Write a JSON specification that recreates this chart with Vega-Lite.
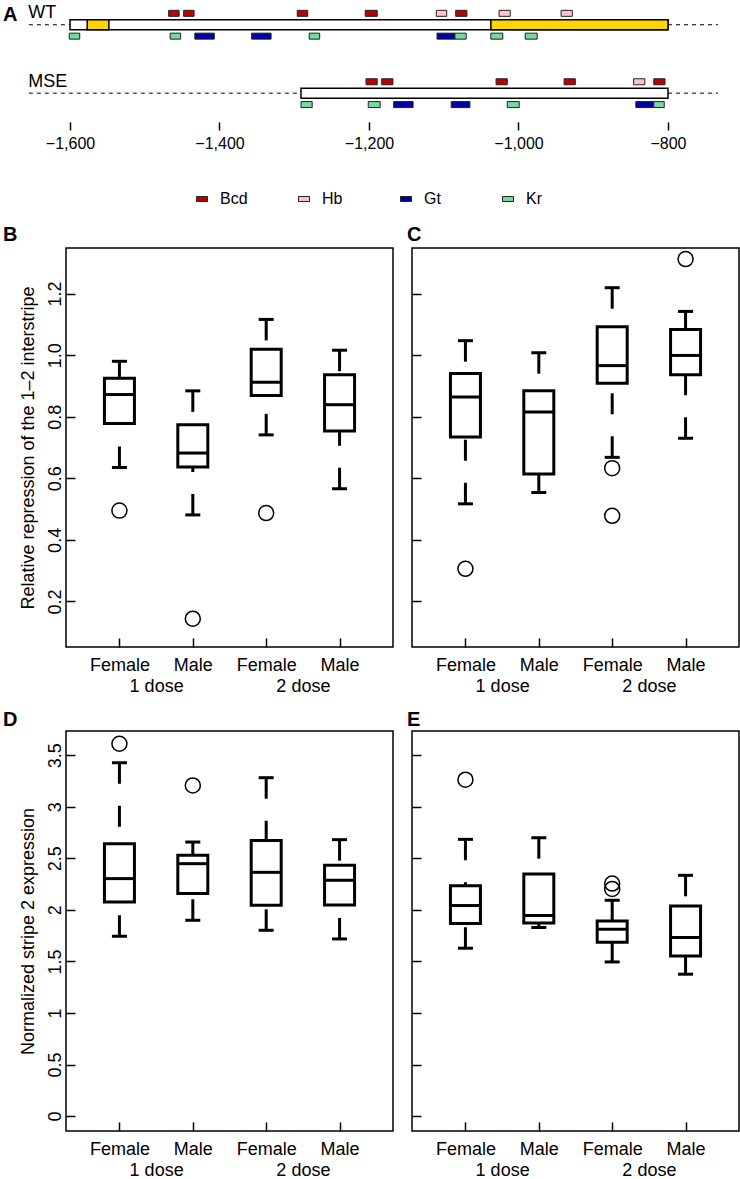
{
  "$schema": "https://vega.github.io/schema/vega-lite/v6.json",
  "background": "white",
  "padding": {"left": 2, "top": 0, "right": 0, "bottom": 4},
  "bounds": "flush",
  "spacing": 126,
  "datasets": {
    "flanks": [
      {"construct": "WT", "track": 0, "start": -1655, "end": -1600},
      {"construct": "WT", "track": 0, "start": -800, "end": -733},
      {"construct": "MSE", "track": -6, "start": -1655, "end": -1291},
      {"construct": "MSE", "track": -6, "start": -800, "end": -733}
    ],
    "bodies": [
      {"construct": "WT", "track": 0, "start": -1600, "end": -800},
      {"construct": "MSE", "track": -6, "start": -1291, "end": -800}
    ],
    "enhancers": [
      {"construct": "WT", "track": 0, "start": -1577, "end": -1548},
      {"construct": "WT", "track": 0, "start": -1037, "end": -800}
    ],
    "names": [
      {"label": "WT", "track": 1, "x": -1656},
      {"label": "MSE", "track": -5, "x": -1656}
    ],
    "sites": [
      {"factor": "Bcd", "track": 1, "start": -1468, "end": -1454},
      {"factor": "Bcd", "track": 1, "start": -1448, "end": -1434},
      {"factor": "Bcd", "track": 1, "start": -1296, "end": -1282},
      {"factor": "Bcd", "track": 1, "start": -1205, "end": -1189},
      {"factor": "Hb", "track": 1, "start": -1110, "end": -1096},
      {"factor": "Bcd", "track": 1, "start": -1084, "end": -1069},
      {"factor": "Hb", "track": 1, "start": -1026, "end": -1011},
      {"factor": "Hb", "track": 1, "start": -943, "end": -928},
      {"factor": "Kr", "track": -1, "start": -1601, "end": -1587},
      {"factor": "Kr", "track": -1, "start": -1466, "end": -1452},
      {"factor": "Gt", "track": -1, "start": -1433, "end": -1407},
      {"factor": "Gt", "track": -1, "start": -1357, "end": -1331},
      {"factor": "Kr", "track": -1, "start": -1280, "end": -1266},
      {"factor": "Gt", "track": -1, "start": -1109, "end": -1085},
      {"factor": "Kr", "track": -1, "start": -1085, "end": -1070},
      {"factor": "Kr", "track": -1, "start": -1037, "end": -1021},
      {"factor": "Kr", "track": -1, "start": -991, "end": -975},
      {"factor": "Bcd", "track": -5, "start": -1204, "end": -1189},
      {"factor": "Bcd", "track": -5, "start": -1183, "end": -1168},
      {"factor": "Bcd", "track": -5, "start": -1030, "end": -1015},
      {"factor": "Bcd", "track": -5, "start": -939, "end": -924},
      {"factor": "Hb", "track": -5, "start": -846, "end": -831},
      {"factor": "Bcd", "track": -5, "start": -819, "end": -804},
      {"factor": "Kr", "track": -7, "start": -1291, "end": -1276},
      {"factor": "Kr", "track": -7, "start": -1201, "end": -1185},
      {"factor": "Gt", "track": -7, "start": -1167, "end": -1141},
      {"factor": "Gt", "track": -7, "start": -1090, "end": -1065},
      {"factor": "Kr", "track": -7, "start": -1015, "end": -999},
      {"factor": "Gt", "track": -7, "start": -843, "end": -819},
      {"factor": "Kr", "track": -7, "start": -819, "end": -805}
    ],
    "boxes": [
      {"panel": "B", "pos": 1, "lower": 0.635, "q1": 0.778, "median": 0.872, "q3": 0.925, "upper": 0.980},
      {"panel": "B", "pos": 2, "lower": 0.481, "q1": 0.637, "median": 0.682, "q3": 0.774, "upper": 0.884},
      {"panel": "B", "pos": 3, "lower": 0.741, "q1": 0.869, "median": 0.912, "q3": 1.019, "upper": 1.116},
      {"panel": "B", "pos": 4, "lower": 0.566, "q1": 0.754, "median": 0.839, "q3": 0.936, "upper": 1.016},
      {"panel": "C", "pos": 1, "lower": 0.517, "q1": 0.734, "median": 0.864, "q3": 0.940, "upper": 1.047},
      {"panel": "C", "pos": 2, "lower": 0.554, "q1": 0.614, "median": 0.815, "q3": 0.884, "upper": 1.008},
      {"panel": "C", "pos": 3, "lower": 0.668, "q1": 0.909, "median": 0.966, "q3": 1.092, "upper": 1.219},
      {"panel": "C", "pos": 4, "lower": 0.730, "q1": 0.936, "median": 0.999, "q3": 1.083, "upper": 1.142},
      {"panel": "D", "pos": 1, "lower": 1.744, "q1": 2.077, "median": 2.303, "q3": 2.642, "upper": 3.427},
      {"panel": "D", "pos": 2, "lower": 1.899, "q1": 2.158, "median": 2.448, "q3": 2.529, "upper": 2.658},
      {"panel": "D", "pos": 3, "lower": 1.802, "q1": 2.045, "median": 2.364, "q3": 2.674, "upper": 3.282},
      {"panel": "D", "pos": 4, "lower": 1.718, "q1": 2.048, "median": 2.287, "q3": 2.432, "upper": 2.681},
      {"panel": "E", "pos": 1, "lower": 1.628, "q1": 1.867, "median": 2.042, "q3": 2.235, "upper": 2.684},
      {"panel": "E", "pos": 2, "lower": 1.828, "q1": 1.873, "median": 1.945, "q3": 2.348, "upper": 2.700},
      {"panel": "E", "pos": 3, "lower": 1.495, "q1": 1.686, "median": 1.812, "q3": 1.893, "upper": 2.093},
      {"panel": "E", "pos": 4, "lower": 1.376, "q1": 1.553, "median": 1.732, "q3": 2.038, "upper": 2.335}
    ],
    "outliers": [
      {"panel": "B", "pos": 1, "value": 0.495},
      {"panel": "B", "pos": 2, "value": 0.144},
      {"panel": "B", "pos": 3, "value": 0.487},
      {"panel": "C", "pos": 1, "value": 0.306},
      {"panel": "C", "pos": 3, "value": 0.633},
      {"panel": "C", "pos": 3, "value": 0.478},
      {"panel": "C", "pos": 4, "value": 1.312},
      {"panel": "D", "pos": 1, "value": 3.611},
      {"panel": "D", "pos": 2, "value": 3.207},
      {"panel": "E", "pos": 1, "value": 3.263},
      {"panel": "E", "pos": 3, "value": 2.255},
      {"panel": "E", "pos": 3, "value": 2.203}
    ]
  },
  "vconcat": [
    {
      "width": 673,
      "height": 122,
      "view": {"stroke": null},
      "title": {"text": "A", "anchor": "start", "frame": "group", "dx": -63, "offset": -41, "baseline": "alphabetic", "fontSize": 20, "fontWeight": "bold"},
      "layer": [
        {
          "data": {"name": "flanks"},
          "mark": {"type": "rule", "strokeDash": [4, 4], "strokeWidth": 1, "color": "black"},
          "encoding": {
            "x": {"field": "start", "type": "quantitative", "scale": {"domain": [-1605.35, -705], "nice": false, "zero": false},
                  "axis": {"values": [-1600, -1400, -1200, -1000, -800], "format": ",.0f", "tickSize": 8, "labelPadding": 5, "labelFontSize": 16, "title": null, "labelFlush": false}},
            "x2": {"field": "end"},
            "y": {"field": "track", "type": "quantitative", "scale": {"domain": [-8.09, 1.731], "nice": false, "zero": false}, "axis": null}
          }
        },
        {
          "data": {"name": "bodies"},
          "mark": {"type": "bar", "orient": "horizontal", "size": 10, "fill": "white", "stroke": "black", "strokeWidth": 1.5},
          "encoding": {
            "x": {"field": "start", "type": "quantitative"},
            "x2": {"field": "end"},
            "y": {"field": "track", "type": "quantitative"}
          }
        },
        {
          "data": {"name": "enhancers"},
          "mark": {"type": "bar", "orient": "horizontal", "size": 10, "fill": "#ffd400", "stroke": "black", "strokeWidth": 1.5},
          "encoding": {
            "x": {"field": "start", "type": "quantitative"},
            "x2": {"field": "end"},
            "y": {"field": "track", "type": "quantitative"}
          }
        },
        {
          "data": {"name": "sites"},
          "mark": {"type": "bar", "orient": "horizontal", "size": 6, "stroke": "#222222", "strokeWidth": 1, "opacity": 1},
          "encoding": {
            "x": {"field": "start", "type": "quantitative"},
            "x2": {"field": "end"},
            "y": {"field": "track", "type": "quantitative"},
            "fill": {"field": "factor", "type": "nominal",
                     "scale": {"domain": ["Bcd", "Hb", "Gt", "Kr"], "range": ["#c00000", "#ffc4c8", "#0000a6", "#78d8a0"]},
                     "legend": {"orient": "none", "legendX": 128, "legendY": 191, "direction": "horizontal", "columns": 4, "title": null,
                                "symbolType": "M-1,-0.45H1V0.45H-1Z", "symbolSize": 121, "symbolStrokeColor": "#222222", "symbolStrokeWidth": 1,
                                "labelFontSize": 16, "labelOffset": 10, "columnPadding": 48, "gridAlign": "all", "padding": 0, "labelColor": "black",
                                "encode": {"symbols": {"update": {"shape": {"signal": "datum.value === 'Gt' ? 'M-1.7,-0.45H1.7V0.45H-1.7Z' : 'M-1,-0.45H1V0.45H-1Z'"}}}}}}
          }
        },
        {
          "data": {"name": "names"},
          "mark": {"type": "text", "align": "left", "baseline": "middle", "fontSize": 18, "color": "black"},
          "encoding": {
            "x": {"field": "x", "type": "quantitative"},
            "y": {"field": "track", "type": "quantitative"},
            "text": {"field": "label"}
          }
        }
      ]
    },
    {
      "bounds": "flush",
      "columns": 2,
      "spacing": {"row": 84, "column": 19},
      "concat": [
        {
          "width": 327, "height": 399,
          "title": {"text": "B", "anchor": "start", "frame": "group", "dx": -63, "offset": -13, "baseline": "alphabetic", "fontSize": 20, "fontWeight": "bold"},
          "layer": [
            {"data": {"name": "boxes"}, "transform": [{"filter": "datum.panel === 'B'"}],
             "mark": {"type": "rule", "strokeDash": [21, 22], "strokeWidth": 3, "color": "black"},
             "encoding": {
               "x": {"field": "pos", "type": "quantitative", "scale": {"domain": [0.34, 4.66], "nice": false, "zero": false},
                     "axis": {"values": [1, 1.5, 2, 3, 3.5, 4], "title": null, "tickSize": -9, "labelPadding": 18, "labelLineHeight": 21, "labelOverlap": false, "labelFlush": false, "labelBaseline": "top", "labelAlign": "center",
                              "tickOpacity": {"condition": {"test": "datum.value === 1.5 || datum.value === 3.5", "value": 0}, "value": 1},
                              "labelExpr": "datum.value === 1.5 ? ['', '1 dose'] : datum.value === 3.5 ? ['', '2 dose'] : (datum.value === 1 || datum.value === 3) ? 'Female' : 'Male'"}},
               "y": {"field": "upper", "type": "quantitative", "scale": {"domain": [0.052, 1.348], "nice": false, "zero": false},
                     "axis": {"values": [0.2, 0.4, 0.6, 0.8, 1.0, 1.2], "format": ".1f", "title": "Relative repression of the 1\u20132 interstripe", "tickSize": -9, "labelPadding": 11, "labelAngle": 270, "labelAlign": "center", "labelBaseline": "bottom", "titlePadding": 9, "labelFlush": false, "labelOverlap": false}},
               "y2": {"field": "q3"}
             }},
            {"data": {"name": "boxes"}, "transform": [{"filter": "datum.panel === 'B'"}],
             "mark": {"type": "rule", "strokeDash": [21, 22], "strokeWidth": 3, "color": "black"},
             "encoding": {"x": {"field": "pos", "type": "quantitative"}, "y": {"field": "lower", "type": "quantitative"}, "y2": {"field": "q1"}}},
            {"data": {"name": "boxes"}, "transform": [{"filter": "datum.panel === 'B'"}],
             "mark": {"type": "tick", "orient": "horizontal", "size": 15, "thickness": 3, "color": "black", "opacity": 1},
             "encoding": {"x": {"field": "pos", "type": "quantitative"}, "y": {"field": "upper", "type": "quantitative"}}},
            {"data": {"name": "boxes"}, "transform": [{"filter": "datum.panel === 'B'"}],
             "mark": {"type": "tick", "orient": "horizontal", "size": 15, "thickness": 3, "color": "black", "opacity": 1},
             "encoding": {"x": {"field": "pos", "type": "quantitative"}, "y": {"field": "lower", "type": "quantitative"}}},
            {"data": {"name": "boxes"}, "transform": [{"filter": "datum.panel === 'B'"}],
             "mark": {"type": "bar", "width": 30, "fill": "white", "stroke": "black", "strokeWidth": 3, "opacity": 1},
             "encoding": {"x": {"field": "pos", "type": "quantitative"}, "y": {"field": "q1", "type": "quantitative"}, "y2": {"field": "q3"}}},
            {"data": {"name": "boxes"}, "transform": [{"filter": "datum.panel === 'B'"}],
             "mark": {"type": "tick", "orient": "horizontal", "size": 30, "thickness": 3, "color": "black", "opacity": 1},
             "encoding": {"x": {"field": "pos", "type": "quantitative"}, "y": {"field": "median", "type": "quantitative"}}},
            {"data": {"name": "outliers"}, "transform": [{"filter": "datum.panel === 'B'"}],
             "mark": {"type": "point", "shape": "circle", "filled": false, "size": 225, "stroke": "black", "strokeWidth": 1.5, "opacity": 1},
             "encoding": {"x": {"field": "pos", "type": "quantitative"}, "y": {"field": "value", "type": "quantitative"}}}
          ]
        },
        {
          "width": 327, "height": 399,
          "title": {"text": "C", "anchor": "start", "frame": "group", "dx": -5, "offset": -13, "baseline": "alphabetic", "fontSize": 20, "fontWeight": "bold"},
          "layer": [
            {"data": {"name": "boxes"}, "transform": [{"filter": "datum.panel === 'C'"}],
             "mark": {"type": "rule", "strokeDash": [21, 22], "strokeWidth": 3, "color": "black"},
             "encoding": {
               "x": {"field": "pos", "type": "quantitative", "scale": {"domain": [0.34, 4.66], "nice": false, "zero": false},
                     "axis": {"values": [1, 1.5, 2, 3, 3.5, 4], "title": null, "tickSize": -9, "labelPadding": 18, "labelLineHeight": 21, "labelOverlap": false, "labelFlush": false, "labelBaseline": "top", "labelAlign": "center",
                              "tickOpacity": {"condition": {"test": "datum.value === 1.5 || datum.value === 3.5", "value": 0}, "value": 1},
                              "labelExpr": "datum.value === 1.5 ? ['', '1 dose'] : datum.value === 3.5 ? ['', '2 dose'] : (datum.value === 1 || datum.value === 3) ? 'Female' : 'Male'"}},
               "y": {"field": "upper", "type": "quantitative", "scale": {"domain": [0.052, 1.348], "nice": false, "zero": false},
                     "axis": {"values": [0.2, 0.4, 0.6, 0.8, 1.0, 1.2], "title": null, "labels": false, "tickSize": -9}},
               "y2": {"field": "q3"}
             }},
            {"data": {"name": "boxes"}, "transform": [{"filter": "datum.panel === 'C'"}],
             "mark": {"type": "rule", "strokeDash": [21, 22], "strokeWidth": 3, "color": "black"},
             "encoding": {"x": {"field": "pos", "type": "quantitative"}, "y": {"field": "lower", "type": "quantitative"}, "y2": {"field": "q1"}}},
            {"data": {"name": "boxes"}, "transform": [{"filter": "datum.panel === 'C'"}],
             "mark": {"type": "tick", "orient": "horizontal", "size": 15, "thickness": 3, "color": "black", "opacity": 1},
             "encoding": {"x": {"field": "pos", "type": "quantitative"}, "y": {"field": "upper", "type": "quantitative"}}},
            {"data": {"name": "boxes"}, "transform": [{"filter": "datum.panel === 'C'"}],
             "mark": {"type": "tick", "orient": "horizontal", "size": 15, "thickness": 3, "color": "black", "opacity": 1},
             "encoding": {"x": {"field": "pos", "type": "quantitative"}, "y": {"field": "lower", "type": "quantitative"}}},
            {"data": {"name": "boxes"}, "transform": [{"filter": "datum.panel === 'C'"}],
             "mark": {"type": "bar", "width": 30, "fill": "white", "stroke": "black", "strokeWidth": 3, "opacity": 1},
             "encoding": {"x": {"field": "pos", "type": "quantitative"}, "y": {"field": "q1", "type": "quantitative"}, "y2": {"field": "q3"}}},
            {"data": {"name": "boxes"}, "transform": [{"filter": "datum.panel === 'C'"}],
             "mark": {"type": "tick", "orient": "horizontal", "size": 30, "thickness": 3, "color": "black", "opacity": 1},
             "encoding": {"x": {"field": "pos", "type": "quantitative"}, "y": {"field": "median", "type": "quantitative"}}},
            {"data": {"name": "outliers"}, "transform": [{"filter": "datum.panel === 'C'"}],
             "mark": {"type": "point", "shape": "circle", "filled": false, "size": 225, "stroke": "black", "strokeWidth": 1.5, "opacity": 1},
             "encoding": {"x": {"field": "pos", "type": "quantitative"}, "y": {"field": "value", "type": "quantitative"}}}
          ]
        },
        {
          "width": 327, "height": 400,
          "title": {"text": "D", "anchor": "start", "frame": "group", "dx": -63, "offset": -15, "baseline": "alphabetic", "fontSize": 20, "fontWeight": "bold"},
          "layer": [
            {"data": {"name": "boxes"}, "transform": [{"filter": "datum.panel === 'D'"}],
             "mark": {"type": "rule", "strokeDash": [21, 22], "strokeWidth": 3, "color": "black"},
             "encoding": {
               "x": {"field": "pos", "type": "quantitative", "scale": {"domain": [0.34, 4.66], "nice": false, "zero": false},
                     "axis": {"values": [1, 1.5, 2, 3, 3.5, 4], "title": null, "tickSize": -9, "labelPadding": 18, "labelLineHeight": 21, "labelOverlap": false, "labelFlush": false, "labelBaseline": "top", "labelAlign": "center",
                              "tickOpacity": {"condition": {"test": "datum.value === 1.5 || datum.value === 3.5", "value": 0}, "value": 1},
                              "labelExpr": "datum.value === 1.5 ? ['', '1 dose'] : datum.value === 3.5 ? ['', '2 dose'] : (datum.value === 1 || datum.value === 3) ? 'Female' : 'Male'"}},
               "y": {"field": "upper", "type": "quantitative", "scale": {"domain": [-0.145, 3.735], "nice": false, "zero": false},
                     "axis": {"values": [0, 0.5, 1, 1.5, 2, 2.5, 3, 3.5], "format": "~g", "title": "Normalized stripe 2 expression", "tickSize": -9, "labelPadding": 11, "labelAngle": 270, "labelAlign": "center", "labelBaseline": "bottom", "titlePadding": 9, "labelFlush": false, "labelOverlap": false}},
               "y2": {"field": "q3"}
             }},
            {"data": {"name": "boxes"}, "transform": [{"filter": "datum.panel === 'D'"}],
             "mark": {"type": "rule", "strokeDash": [21, 22], "strokeWidth": 3, "color": "black"},
             "encoding": {"x": {"field": "pos", "type": "quantitative"}, "y": {"field": "lower", "type": "quantitative"}, "y2": {"field": "q1"}}},
            {"data": {"name": "boxes"}, "transform": [{"filter": "datum.panel === 'D'"}],
             "mark": {"type": "tick", "orient": "horizontal", "size": 15, "thickness": 3, "color": "black", "opacity": 1},
             "encoding": {"x": {"field": "pos", "type": "quantitative"}, "y": {"field": "upper", "type": "quantitative"}}},
            {"data": {"name": "boxes"}, "transform": [{"filter": "datum.panel === 'D'"}],
             "mark": {"type": "tick", "orient": "horizontal", "size": 15, "thickness": 3, "color": "black", "opacity": 1},
             "encoding": {"x": {"field": "pos", "type": "quantitative"}, "y": {"field": "lower", "type": "quantitative"}}},
            {"data": {"name": "boxes"}, "transform": [{"filter": "datum.panel === 'D'"}],
             "mark": {"type": "bar", "width": 30, "fill": "white", "stroke": "black", "strokeWidth": 3, "opacity": 1},
             "encoding": {"x": {"field": "pos", "type": "quantitative"}, "y": {"field": "q1", "type": "quantitative"}, "y2": {"field": "q3"}}},
            {"data": {"name": "boxes"}, "transform": [{"filter": "datum.panel === 'D'"}],
             "mark": {"type": "tick", "orient": "horizontal", "size": 30, "thickness": 3, "color": "black", "opacity": 1},
             "encoding": {"x": {"field": "pos", "type": "quantitative"}, "y": {"field": "median", "type": "quantitative"}}},
            {"data": {"name": "outliers"}, "transform": [{"filter": "datum.panel === 'D'"}],
             "mark": {"type": "point", "shape": "circle", "filled": false, "size": 225, "stroke": "black", "strokeWidth": 1.5, "opacity": 1},
             "encoding": {"x": {"field": "pos", "type": "quantitative"}, "y": {"field": "value", "type": "quantitative"}}}
          ]
        },
        {
          "width": 327, "height": 400,
          "title": {"text": "E", "anchor": "start", "frame": "group", "dx": -5, "offset": -15, "baseline": "alphabetic", "fontSize": 20, "fontWeight": "bold"},
          "layer": [
            {"data": {"name": "boxes"}, "transform": [{"filter": "datum.panel === 'E'"}],
             "mark": {"type": "rule", "strokeDash": [21, 22], "strokeWidth": 3, "color": "black"},
             "encoding": {
               "x": {"field": "pos", "type": "quantitative", "scale": {"domain": [0.34, 4.66], "nice": false, "zero": false},
                     "axis": {"values": [1, 1.5, 2, 3, 3.5, 4], "title": null, "tickSize": -9, "labelPadding": 18, "labelLineHeight": 21, "labelOverlap": false, "labelFlush": false, "labelBaseline": "top", "labelAlign": "center",
                              "tickOpacity": {"condition": {"test": "datum.value === 1.5 || datum.value === 3.5", "value": 0}, "value": 1},
                              "labelExpr": "datum.value === 1.5 ? ['', '1 dose'] : datum.value === 3.5 ? ['', '2 dose'] : (datum.value === 1 || datum.value === 3) ? 'Female' : 'Male'"}},
               "y": {"field": "upper", "type": "quantitative", "scale": {"domain": [-0.145, 3.735], "nice": false, "zero": false},
                     "axis": {"values": [0, 0.5, 1, 1.5, 2, 2.5, 3, 3.5], "title": null, "labels": false, "tickSize": -9}},
               "y2": {"field": "q3"}
             }},
            {"data": {"name": "boxes"}, "transform": [{"filter": "datum.panel === 'E'"}],
             "mark": {"type": "rule", "strokeDash": [21, 22], "strokeWidth": 3, "color": "black"},
             "encoding": {"x": {"field": "pos", "type": "quantitative"}, "y": {"field": "lower", "type": "quantitative"}, "y2": {"field": "q1"}}},
            {"data": {"name": "boxes"}, "transform": [{"filter": "datum.panel === 'E'"}],
             "mark": {"type": "tick", "orient": "horizontal", "size": 15, "thickness": 3, "color": "black", "opacity": 1},
             "encoding": {"x": {"field": "pos", "type": "quantitative"}, "y": {"field": "upper", "type": "quantitative"}}},
            {"data": {"name": "boxes"}, "transform": [{"filter": "datum.panel === 'E'"}],
             "mark": {"type": "tick", "orient": "horizontal", "size": 15, "thickness": 3, "color": "black", "opacity": 1},
             "encoding": {"x": {"field": "pos", "type": "quantitative"}, "y": {"field": "lower", "type": "quantitative"}}},
            {"data": {"name": "boxes"}, "transform": [{"filter": "datum.panel === 'E'"}],
             "mark": {"type": "bar", "width": 30, "fill": "white", "stroke": "black", "strokeWidth": 3, "opacity": 1},
             "encoding": {"x": {"field": "pos", "type": "quantitative"}, "y": {"field": "q1", "type": "quantitative"}, "y2": {"field": "q3"}}},
            {"data": {"name": "boxes"}, "transform": [{"filter": "datum.panel === 'E'"}],
             "mark": {"type": "tick", "orient": "horizontal", "size": 30, "thickness": 3, "color": "black", "opacity": 1},
             "encoding": {"x": {"field": "pos", "type": "quantitative"}, "y": {"field": "median", "type": "quantitative"}}},
            {"data": {"name": "outliers"}, "transform": [{"filter": "datum.panel === 'E'"}],
             "mark": {"type": "point", "shape": "circle", "filled": false, "size": 225, "stroke": "black", "strokeWidth": 1.5, "opacity": 1},
             "encoding": {"x": {"field": "pos", "type": "quantitative"}, "y": {"field": "value", "type": "quantitative"}}}
          ]
        }
      ]
    }
  ],
  "config": {
    "font": "Liberation Sans",
    "view": {"stroke": "black", "strokeWidth": 1.5},
    "axis": {"domain": false, "grid": false, "tickColor": "black", "tickWidth": 1.5, "labelColor": "black", "titleColor": "black",
             "labelFontSize": 18, "titleFontSize": 18, "titleFontWeight": "normal", "labelFont": "Liberation Sans", "titleFont": "Liberation Sans"},
    "legend": {"labelFont": "Liberation Sans"},
    "title": {"font": "Liberation Sans", "color": "black"}
  }
}
